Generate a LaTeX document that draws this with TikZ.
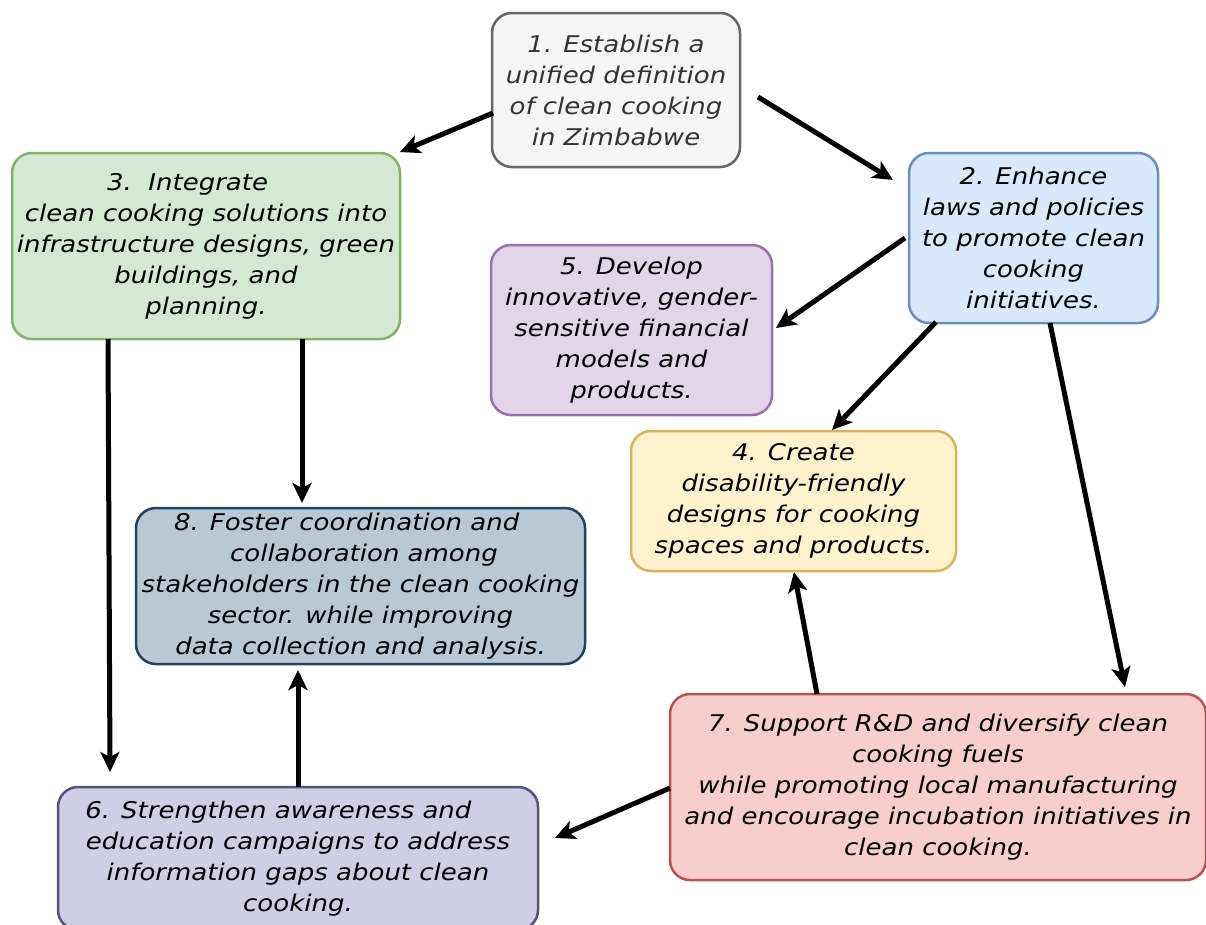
\documentclass[tikz,border=0pt]{standalone}
\usepackage{fontspec}
\setmainfont[FakeStretch=1.13]{DejaVu Sans}
\usetikzlibrary{arrows.meta}
\definecolor{f1}{HTML}{F5F5F5}\definecolor{s1}{HTML}{666666}
\definecolor{f2}{HTML}{DAE8FC}\definecolor{s2}{HTML}{6C8EBF}
\definecolor{f3}{HTML}{D5E8D4}\definecolor{s3}{HTML}{82B366}
\definecolor{f4}{HTML}{FFF2CC}\definecolor{s4}{HTML}{D6B656}
\definecolor{f5}{HTML}{E1D5E7}\definecolor{s5}{HTML}{9673A6}
\definecolor{f6}{HTML}{D0CEE2}\definecolor{s6}{HTML}{56517E}
\definecolor{f7}{HTML}{F8CECC}\definecolor{s7}{HTML}{B85450}
\definecolor{f8}{HTML}{BAC8D3}\definecolor{s8}{HTML}{23445D}
\definecolor{t1}{HTML}{333333}
\tikzset{
  box/.style={draw, line width=2.5pt, rounded corners=20pt, align=center, inner sep=0pt,
    font=\fontsize{23}{31}\selectfont\itshape},
  arr/.style={line width=5pt, -{Stealth[length=20pt,width=19pt,inset=5pt]}},
}
\begin{document}
\begin{tikzpicture}[x=1pt,y=-1pt]
\useasboundingbox (0,0) rectangle (1206,924);
\clip (0,0) rectangle (1206,924);
\node[box, fill=f1, draw=s1, text=t1, minimum width=248pt, minimum height=154pt] (n1) at (616,90)
  {1. Establish a\\unified definition\\of clean cooking\\in Zimbabwe};
\node[box, fill=f2, draw=s2, minimum width=249pt, minimum height=170pt] (n2) at (1033.5,238)
  {2. Enhance\\laws and policies\\to promote clean\\cooking\\initiatives.};
\node[box, fill=f3, draw=s3, minimum width=388pt, minimum height=186pt] (n3) at (206,246)
  {3.\ \ Integrate\hspace*{1.6em}\\clean cooking solutions into\\infrastructure designs, green\\buildings, and\\planning.};
\node[box, fill=f5, draw=s5, minimum width=281pt, minimum height=170pt] (n5) at (631.5,330)
  {5. Develop\\innovative, gender-\\sensitive financial\\models and\\products.};
\node[box, fill=f4, draw=s4, minimum width=325pt, minimum height=140pt] (n4) at (793.5,501)
  {4. Create\\disability-friendly\\designs for cooking\\spaces and products.};
\node[box, fill=f8, draw=s8, minimum width=449pt, minimum height=156pt] (n8) at (360.5,586)
  {8. Foster coordination and\hspace*{1.2em}\\\hspace*{0.3em}collaboration among\\stakeholders in the clean cooking\\sector. while improving\hspace*{0.2em}\\data collection and analysis.};
\node[box, fill=f7, draw=s7, minimum width=536pt, minimum height=186pt] (n7) at (938,787)
  {7. Support R\&D and diversify clean\\cooking fuels\\while promoting local manufacturing\\and encourage incubation initiatives in\\clean cooking.};
\node[box, fill=f6, draw=s6, minimum width=480pt, minimum height=143pt] (n6) at (298,858.5)
  {6. Strengthen awareness and\hspace*{1.7em}\\education campaigns to address\\information gaps about clean\\cooking.};
% connectors
\coordinate (a13s) at (493,113); \coordinate (a13e) at (400,152);
\coordinate (a12s) at (758,97);  \coordinate (a12e) at (893,180);
\coordinate (a25s) at (905,238); \coordinate (a25e) at (776,328);
\coordinate (a24s) at (936,322); \coordinate (a24e) at (832,430);
\coordinate (a27s) at (1050,323);\coordinate (a27e) at (1125,687);
\coordinate (a38s) at (302,339); \coordinate (a38e) at (302,503);
\coordinate (a36s) at (108,339); \coordinate (a36e) at (110,772);
\coordinate (a68s) at (298,787); \coordinate (a68e) at (298,670);
\coordinate (a74s) at (817,694); \coordinate (a74e) at (794,572);
\coordinate (a76s) at (670,788); \coordinate (a76e) at (555,838);
\draw[arr] (a13s) -- (a13e);
\draw[arr] (a12s) -- (a12e);
\draw[arr] (a25s) -- (a25e);
\draw[arr] (a24s) -- (a24e);
\draw[arr] (a27s) -- (a27e);
\draw[arr] (a38s) -- (a38e);
\draw[arr] (a36s) -- (a36e);
\draw[arr] (a68s) -- (a68e);
\draw[arr] (a74s) -- (a74e);
\draw[arr] (a76s) -- (a76e);
\end{tikzpicture}
\end{document}
